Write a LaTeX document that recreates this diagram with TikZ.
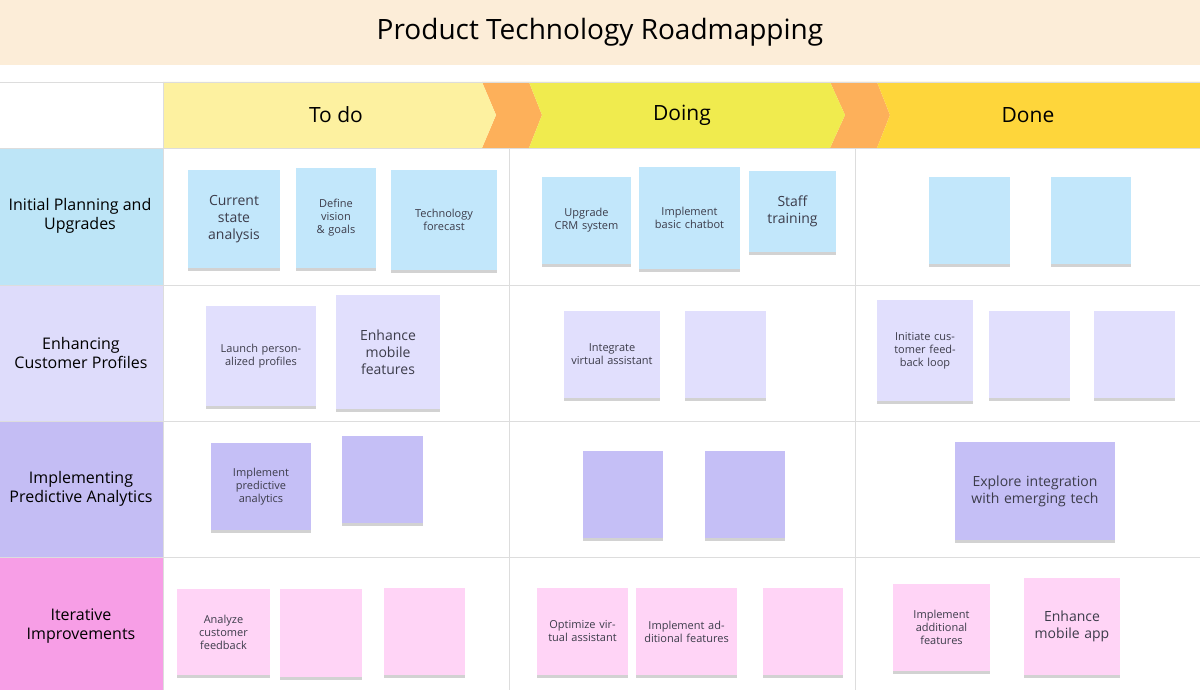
\documentclass[tikz,border=0pt]{standalone}
\usepackage{fontspec}
\setmainfont{Open Sans}
\usetikzlibrary{shadows}
\definecolor{titlebg}{HTML}{FCEDD8}
\definecolor{todo}{HTML}{FDF1A0}
\definecolor{doing}{HTML}{F0EB4E}
\definecolor{done}{HTML}{FED63B}
\definecolor{chev}{HTML}{FDB05A}
\definecolor{rA}{HTML}{BDE5F7}
\definecolor{rB}{HTML}{DEDCFB}
\definecolor{rC}{HTML}{C4BDF4}
\definecolor{rD}{HTML}{F79EE6}
\definecolor{sA}{HTML}{C2E7FB}
\definecolor{sB}{HTML}{E1DFFD}
\definecolor{sC}{HTML}{C5BFF6}
\definecolor{sD}{HTML}{FFD4F6}
\definecolor{grid}{HTML}{DDDDDD}
\definecolor{txt}{HTML}{3C3C4A}
\tikzset{
  sticky/.style={inner sep=2pt, align=center, text=txt, drop shadow={shadow xshift=0pt, shadow yshift=-3pt, opacity=0.35, fill=gray}},
  sm/.style={font=\fontsize{11}{13}\selectfont},
  lg/.style={font=\fontsize{14}{17}\selectfont},
  rowlab/.style={align=center, font=\fontsize{16}{19}\selectfont, text=black},
  head/.style={font=\fontsize{21}{25}\selectfont, text=black}
}
% #1 name, #2 x1, #3 y1, #4 x2, #5 y2, #6 color, #7 size style, #8 text
\newcommand{\stk}[8]{\node[sticky, #7, fill=#6, minimum width={#4-#2}, minimum height={#5-#3}, text width={#4-#2-14}] (#1) at ({(#2+#4)/2},{(#3+#5)/2}) {#8};}
\begin{document}
\begin{tikzpicture}[x=1pt,y=-1pt]
\useasboundingbox (0,0) rectangle (1200,690);
\fill[white] (0,0) rectangle (1200,690);
\fill[titlebg] (0,0) rectangle (1200,65);
\node[font=\fontsize{28}{32}\selectfont] (title) at (600,32) {Product Technology Roadmapping};
% header
\fill[chev] (482,82) -- (529,82) -- (542,115) -- (529,148) -- (482,148) -- (496,115) -- cycle;
\fill[chev] (830,82) -- (877,82) -- (890,115) -- (877,148) -- (830,148) -- (845,115) -- cycle;
\fill[todo] (163,82) -- (482,82) -- (496,115) -- (482,148) -- (163,148) -- cycle;
\fill[doing] (529,82) -- (830,82) -- (845,115) -- (830,148) -- (529,148) -- (542,115) -- cycle;
\fill[done] (877,82) -- (1200,82) -- (1200,148) -- (877,148) -- (890,115) -- cycle;
\node[head] (h1) at (336,115) {To do};
\node[head] (h2) at (682,115) {Doing};
\node[head] (h3) at (1028,115) {Done};
% row labels
\fill[rA] (0,148) rectangle (163,285);
\fill[rB] (0,285) rectangle (163,421);
\fill[rC] (0,421) rectangle (163,557);
\fill[rD] (0,557) rectangle (163,690);
\node[rowlab] (l1) at (80,216) {Initial Planning and\\Upgrades};
\node[rowlab] (l2) at (81,353) {Enhancing\\Customer Profiles};
\node[rowlab] (l3) at (81,489) {Implementing\\Predictive Analytics};
\node[rowlab] (l4) at (81,626) {Iterative\\Improvements};
% grid
\draw[grid, line width=0.8pt] (0,82) -- (1200,82);
\draw[grid, line width=0.8pt] (163,82) -- (163,690);
\draw[grid, line width=0.8pt] (509,148) -- (509,690);
\draw[grid, line width=0.8pt] (855,148) -- (855,690);
\foreach \y in {148,285,421,557} \draw[grid, line width=0.8pt] (0,\y) -- (1200,\y);
% row 1
\stk{a1}{188}{170}{280}{268}{sA}{lg}{Current state analysis}
\stk{a2}{296}{168}{376}{268}{sA}{sm}{Define vision \& goals}
\stk{a3}{391}{170}{497}{270}{sA}{sm}{Technology forecast}
\stk{a4}{542}{177}{631}{264}{sA}{sm}{Upgrade CRM system}
\stk{a5}{639}{167}{740}{269}{sA}{sm}{Implement basic chatbot\\[12pt]}
\stk{a6}{749}{171}{836}{252}{sA}{lg}{Staff training\\[14pt]}
\stk{a7}{929}{177}{1010}{264}{sA}{sm}{}
\stk{a8}{1051}{177}{1131}{264}{sA}{sm}{}
% row 2
\stk{b1}{206}{306}{316}{406}{sB}{sm}{Launch personalized profiles}
\stk{b2}{336}{295}{440}{409}{sB}{lg}{Enhance mobile features}
\stk{b3}{564}{311}{660}{398}{sB}{sm}{Integrate virtual assistant}
\stk{b4}{685}{311}{766}{398}{sB}{sm}{}
\stk{b5}{877}{300}{973}{401}{sB}{sm}{Initiate customer feedback loop\\[10pt]}
\stk{b6}{989}{311}{1070}{398}{sB}{sm}{}
\stk{b7}{1094}{311}{1175}{398}{sB}{sm}{}
% row 3
\stk{c1}{211}{443}{311}{530}{sC}{sm}{Implement predictive analytics}
\stk{c2}{342}{436}{423}{523}{sC}{sm}{}
\stk{c3}{583}{451}{663}{538}{sC}{sm}{}
\stk{c4}{705}{451}{785}{538}{sC}{sm}{}
\stk{c5}{955}{442}{1115}{540}{sC}{lg}{Explore integration with emerging tech}
% row 4
\stk{d1}{177}{589}{270}{675}{sD}{sm}{Analyze customer feedback}
\stk{d2}{280}{589}{362}{677}{sD}{sm}{}
\stk{d3}{384}{588}{465}{675}{sD}{sm}{}
\stk{d4}{537}{588}{628}{675}{sD}{sm}{Optimize virtual assistant}
\stk{d5}{636}{588}{737}{675}{sD}{sm}{Implement additional features}
\stk{d6}{763}{588}{843}{675}{sD}{sm}{}
\stk{d7}{893}{584}{990}{671}{sD}{sm}{Implement additional features}
\stk{d8}{1024}{578}{1120}{675}{sD}{lg}{Enhance mobile app\\[8pt]}
\end{tikzpicture}
\end{document}
